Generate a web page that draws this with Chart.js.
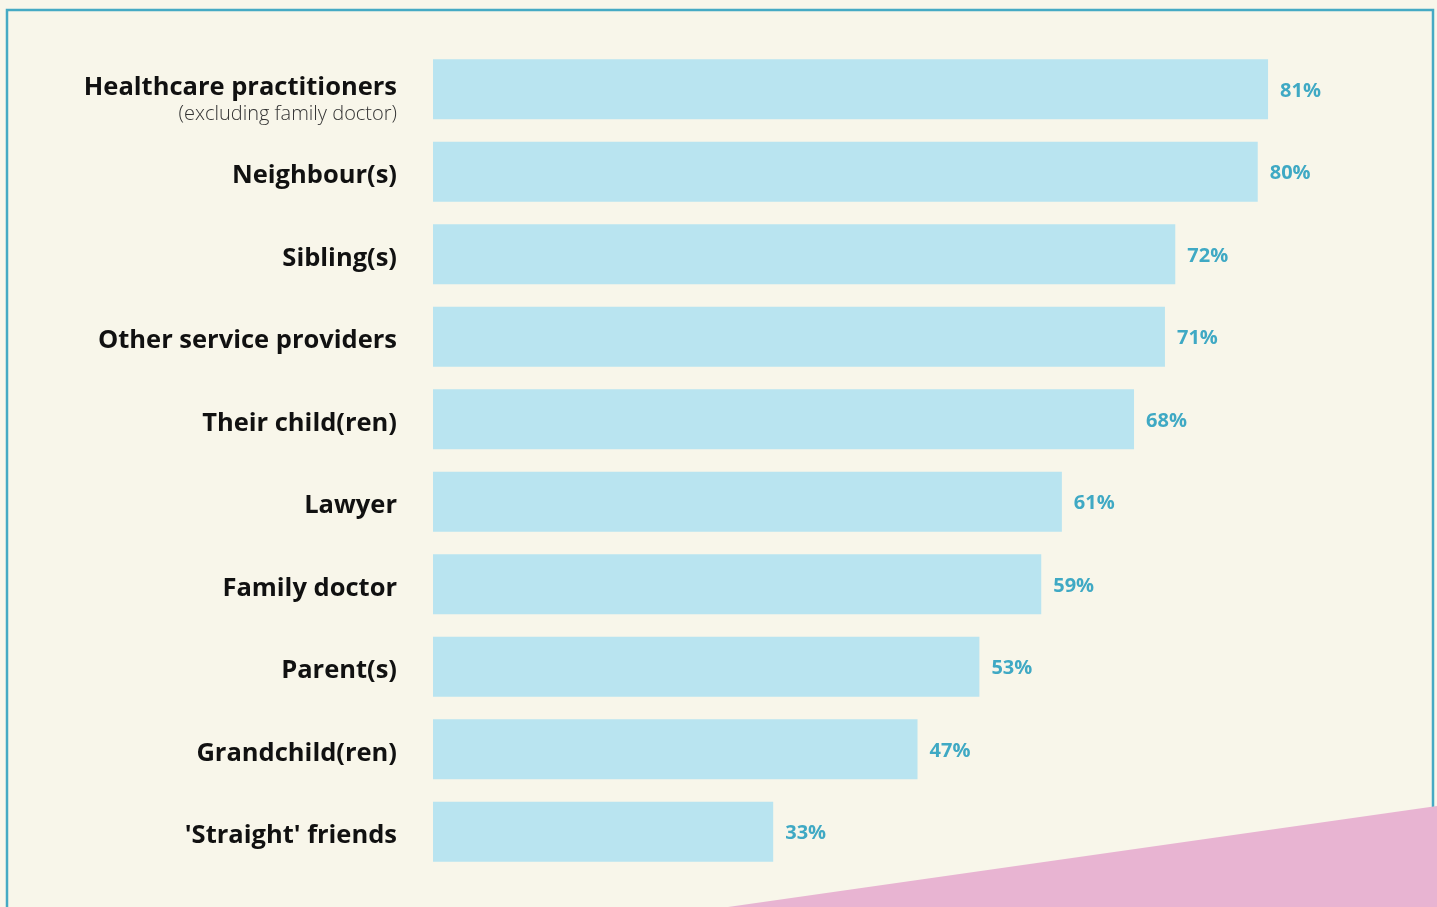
<!DOCTYPE html>
<html>
<head>
<meta charset="utf-8">
<script src="https://cdn.jsdelivr.net/npm/chart.js@4"></script>
<style>
  html, body { margin: 0; padding: 0; background: #f8f6ea; overflow: hidden; }
  #wrap { width: 1437px; height: 907px; position: relative; }
</style>
</head>
<body>
<div id="wrap"><canvas id="chart" width="1437" height="907"></canvas></div>
<script>
const categories = [
  'Healthcare practitioners', 'Neighbour(s)', 'Sibling(s)', 'Other service providers',
  'Their child(ren)', 'Lawyer', 'Family doctor', 'Parent(s)', 'Grandchild(ren)', "'Straight' friends"
];
const subLabels = ['(excluding family doctor)', '', '', '', '', '', '', '', '', ''];
const values = [81, 80, 72, 71, 68, 61, 59, 53, 47, 33];

const BAR = '#b9e4f0';
const TEAL = '#3fa9c4';

// cream panel, teal frame and the pink corner wedge
const backdrop = {
  id: 'backdrop',
  beforeDraw(chart) {
    const { ctx, width, height } = chart;
    ctx.save();
    ctx.fillStyle = '#f8f6ea';
    ctx.fillRect(0, 0, width, height);
    ctx.strokeStyle = '#45aac4';
    ctx.lineWidth = 2.5;
    ctx.strokeRect(7, 10, 1426, height + 20);
    ctx.fillStyle = '#e8b4d2';
    ctx.beginPath();
    ctx.moveTo(728, height);
    ctx.lineTo(width, 806);
    ctx.lineTo(width, height);
    ctx.closePath();
    ctx.fill();
    ctx.restore();
  }
};

// category names to the left and percentages at bar ends
const labels = {
  id: 'labels',
  afterDatasetsDraw(chart) {
    const { ctx } = chart;
    const meta = chart.getDatasetMeta(0);
    ctx.save();
    ctx.textBaseline = 'middle';
    meta.data.forEach((bar, i) => {
      const y = bar.y;
      ctx.textAlign = 'right';
      ctx.fillStyle = '#111';
      ctx.font = 'bold 25.5px "Open Sans"';
      if (subLabels[i]) {
        ctx.fillText(categories[i], 397, y - 2);
        ctx.font = '300 20px "Open Sans"';
        ctx.fillStyle = '#333';
        ctx.fillText(subLabels[i], 397, y + 25);
      } else {
        ctx.fillText(categories[i], 397, y + 4);
      }
      ctx.textAlign = 'left';
      ctx.fillStyle = TEAL;
      ctx.font = 'bold 20px "Open Sans"';
      ctx.fillText(values[i] + '%', bar.x + 12, y + 2);
    });
    ctx.restore();
  }
};

new Chart(document.getElementById('chart'), {
  type: 'bar',
  data: {
    labels: categories,
    datasets: [{
      data: values,
      backgroundColor: BAR,
      borderWidth: 0,
      barPercentage: 0.727,
      categoryPercentage: 1
    }]
  },
  plugins: [backdrop, labels],
  options: {
    indexAxis: 'y',
    responsive: false,
    animation: false,
    layout: { padding: { left: 433, right: 4, top: 48, bottom: 34 } },
    plugins: { legend: { display: false }, tooltip: { enabled: false } },
    scales: {
      x: { display: false, min: 0, max: 97 },
      y: { display: false }
    }
  }
});
</script>
</body>
</html>
